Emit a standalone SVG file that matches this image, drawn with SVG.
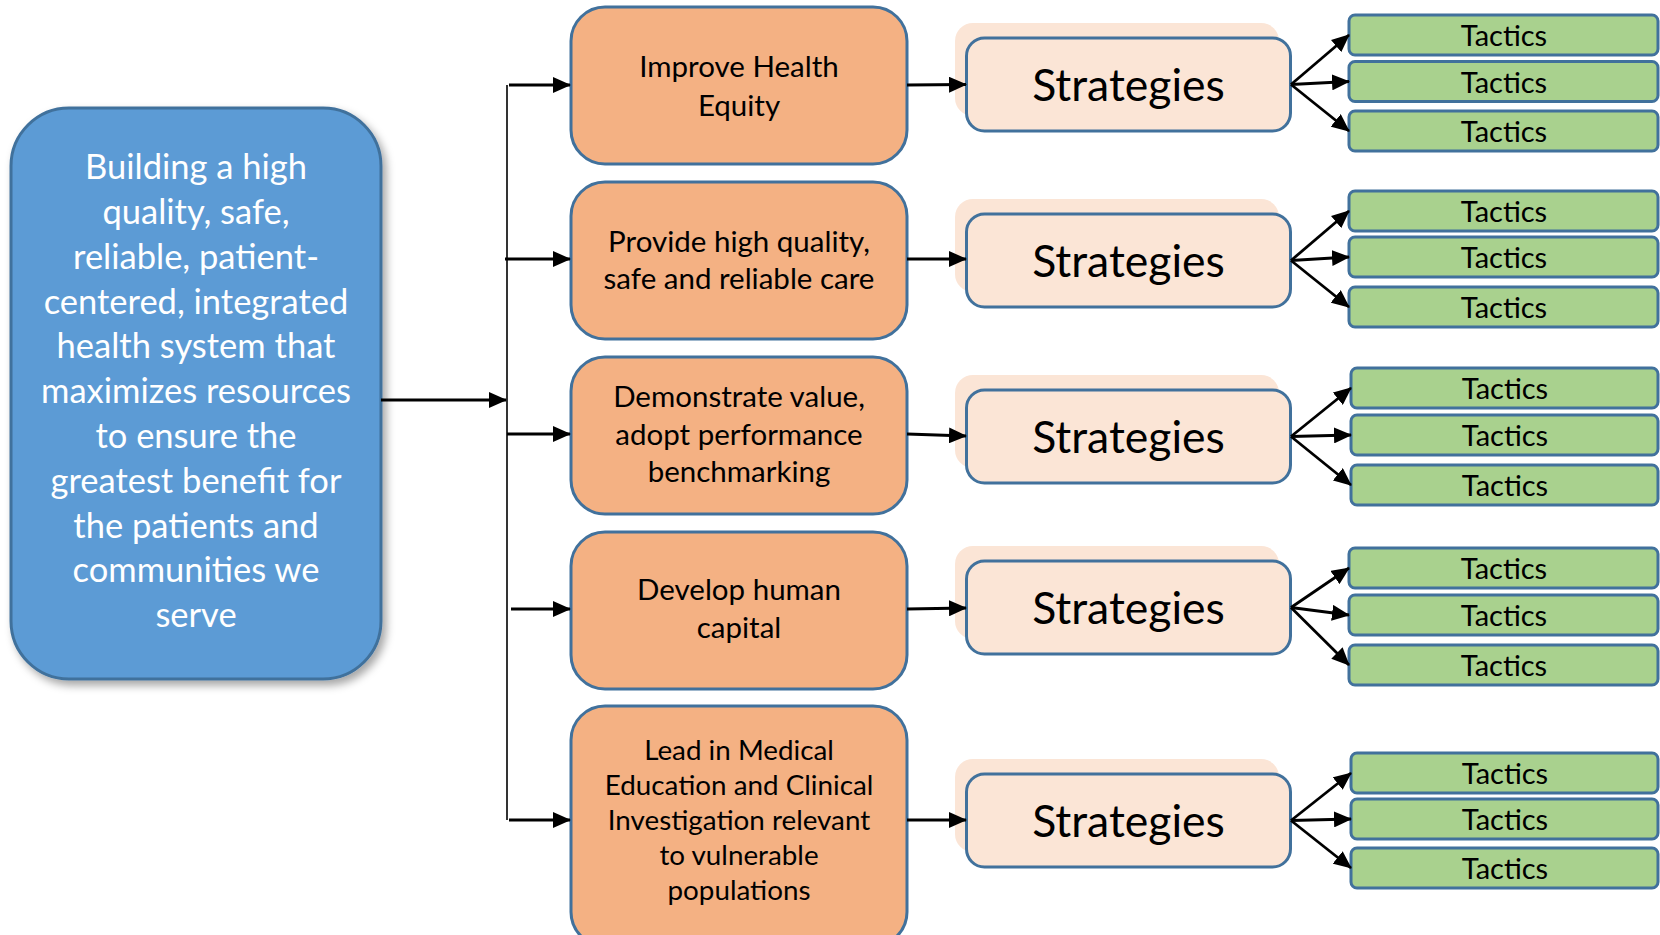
<svg xmlns="http://www.w3.org/2000/svg" width="1660" height="935" viewBox="0 0 1660 935">
<style>
.goal{fill:#5B9BD5;stroke:#41719C;stroke-width:3}
.obj{fill:#F4B183;stroke:#41719C;stroke-width:3}
.strb{fill:#FBE5D6;stroke:none}
.str{fill:#FBE5D6;stroke:#41719C;stroke-width:3}
.tac{fill:#A9D18E;stroke:#41719C;stroke-width:3}
text{font-family:Lato,"Open Sans","Liberation Sans",sans-serif;text-anchor:middle}
.tg{fill:#FFFFFF;font-size:34.5px}
.to{fill:#000;font-size:29.5px}
.to5{fill:#000;font-size:27.8px}
.ts{fill:#000;font-size:44.5px}
.tt{fill:#000;font-size:29px}
.c{stroke:#000;stroke-width:2.8;fill:none;marker-end:url(#ah)}
.bus{stroke:#000;stroke-width:1.6;fill:none}
</style>
<defs>
<marker id="ah" markerUnits="userSpaceOnUse" markerWidth="18" markerHeight="16" refX="17" refY="8" orient="auto">
<path d="M0,0 L18,8 L0,16 Z" fill="#000"/>
</marker>
<filter id="sh" x="-10%" y="-10%" width="130%" height="130%">
<feDropShadow dx="4" dy="5" stdDeviation="4" flood-color="#000" flood-opacity="0.35"/>
</filter>
</defs>

<g id="goal">
<rect class="goal" x="11" y="108" width="370" height="571" rx="58" filter="url(#sh)"/>
<text class="tg" x="196" y="179">Building a high</text>
<text class="tg" x="196" y="224">quality, safe,</text>
<text class="tg" x="196" y="268.5">reliable, patient-</text>
<text class="tg" x="196" y="313.5">centered, integrated</text>
<text class="tg" x="196" y="358">health system that</text>
<text class="tg" x="196" y="403">maximizes resources</text>
<text class="tg" x="196" y="448">to ensure the</text>
<text class="tg" x="196" y="492.5">greatest benefit for</text>
<text class="tg" x="196" y="537.5">the patients and</text>
<text class="tg" x="196" y="582">communities we</text>
<text class="tg" x="196" y="627">serve</text>
</g>

<g id="obj1">
<rect class="obj" x="571" y="7" width="336" height="157" rx="34"/>
<text class="to" x="739" y="77">Improve Health</text>
<text class="to" x="739" y="116">Equity</text>
</g>
<g id="obj2">
<rect class="obj" x="571" y="182" width="336" height="157" rx="34"/>
<text class="to" x="739" y="252">Provide high quality,</text>
<text class="to" x="739" y="289">safe and reliable care</text>
</g>
<g id="obj3">
<rect class="obj" x="571" y="357" width="336" height="157" rx="34"/>
<text class="to" x="739" y="407">Demonstrate value,</text>
<text class="to" x="739" y="445">adopt performance</text>
<text class="to" x="739" y="482">benchmarking</text>
</g>
<g id="obj4">
<rect class="obj" x="571" y="532" width="336" height="157" rx="34"/>
<text class="to" x="739" y="600">Develop human</text>
<text class="to" x="739" y="638">capital</text>
</g>
<g id="obj5">
<rect class="obj" x="571" y="706" width="336" height="240" rx="34"/>
<text class="to5" x="739" y="760">Lead in Medical</text>
<text class="to5" x="739" y="795">Education and Clinical</text>
<text class="to5" x="739" y="830">Investigation relevant</text>
<text class="to5" x="739" y="865">to vulnerable</text>
<text class="to5" x="739" y="900">populations</text>
</g>

<g id="str1">
<rect class="strb" x="955" y="23" width="324" height="93" rx="18"/>
<rect class="str" x="966.5" y="38" width="324" height="93" rx="18"/>
<text class="ts" x="1128.5" y="101">Strategies</text>
</g>
<g id="str2">
<rect class="strb" x="955" y="199" width="324" height="93" rx="18"/>
<rect class="str" x="966.5" y="214" width="324" height="93" rx="18"/>
<text class="ts" x="1128.5" y="277">Strategies</text>
</g>
<g id="str3">
<rect class="strb" x="955" y="375" width="324" height="93" rx="18"/>
<rect class="str" x="966.5" y="390" width="324" height="93" rx="18"/>
<text class="ts" x="1128.5" y="453">Strategies</text>
</g>
<g id="str4">
<rect class="strb" x="955" y="546" width="324" height="93" rx="18"/>
<rect class="str" x="966.5" y="561" width="324" height="93" rx="18"/>
<text class="ts" x="1128.5" y="624">Strategies</text>
</g>
<g id="str5">
<rect class="strb" x="955" y="759" width="324" height="93" rx="18"/>
<rect class="str" x="966.5" y="774" width="324" height="93" rx="18"/>
<text class="ts" x="1128.5" y="837">Strategies</text>
</g>

<g id="tac1a"><rect class="tac" x="1349" y="15" width="309" height="40" rx="6"/><text class="tt" x="1504" y="46">Tactics</text></g>
<g id="tac1b"><rect class="tac" x="1349" y="61.5" width="309" height="40" rx="6"/><text class="tt" x="1504" y="92.5">Tactics</text></g>
<g id="tac1c"><rect class="tac" x="1349" y="111" width="309" height="40" rx="6"/><text class="tt" x="1504" y="142">Tactics</text></g>
<g id="tac2a"><rect class="tac" x="1349" y="191" width="309" height="40" rx="6"/><text class="tt" x="1504" y="222">Tactics</text></g>
<g id="tac2b"><rect class="tac" x="1349" y="237" width="309" height="40" rx="6"/><text class="tt" x="1504" y="268">Tactics</text></g>
<g id="tac2c"><rect class="tac" x="1349" y="287" width="309" height="40" rx="6"/><text class="tt" x="1504" y="318">Tactics</text></g>
<g id="tac3a"><rect class="tac" x="1351" y="368" width="307" height="40" rx="6"/><text class="tt" x="1505" y="399">Tactics</text></g>
<g id="tac3b"><rect class="tac" x="1351" y="415" width="307" height="40" rx="6"/><text class="tt" x="1505" y="446">Tactics</text></g>
<g id="tac3c"><rect class="tac" x="1351" y="465" width="307" height="40" rx="6"/><text class="tt" x="1505" y="496">Tactics</text></g>
<g id="tac4a"><rect class="tac" x="1349" y="548" width="309" height="40" rx="6"/><text class="tt" x="1504" y="579">Tactics</text></g>
<g id="tac4b"><rect class="tac" x="1349" y="595" width="309" height="40" rx="6"/><text class="tt" x="1504" y="626">Tactics</text></g>
<g id="tac4c"><rect class="tac" x="1349" y="645" width="309" height="40" rx="6"/><text class="tt" x="1504" y="676">Tactics</text></g>
<g id="tac5a"><rect class="tac" x="1351" y="753" width="307" height="40" rx="6"/><text class="tt" x="1505" y="784">Tactics</text></g>
<g id="tac5b"><rect class="tac" x="1351" y="799" width="307" height="40" rx="6"/><text class="tt" x="1505" y="830">Tactics</text></g>
<g id="tac5c"><rect class="tac" x="1351" y="848" width="307" height="40" rx="6"/><text class="tt" x="1505" y="879">Tactics</text></g>

<g id="connectors">
<line class="c" x1="381" y1="400" x2="506" y2="400"/>
<line class="bus" x1="507" y1="85" x2="507" y2="820"/>
<line class="c" x1="509" y1="85" x2="570" y2="85"/>
<line class="c" x1="505" y1="259" x2="570" y2="259"/>
<line class="c" x1="507" y1="434" x2="570" y2="434"/>
<line class="c" x1="511" y1="609" x2="570" y2="609"/>
<line class="c" x1="509" y1="820" x2="570" y2="820"/>
<line class="c" x1="907" y1="85" x2="966" y2="84.5"/>
<line class="c" x1="907" y1="259" x2="966" y2="259"/>
<line class="c" x1="907" y1="434" x2="966" y2="436"/>
<line class="c" x1="907" y1="609" x2="966" y2="608"/>
<line class="c" x1="907" y1="820" x2="966" y2="820"/>
<line class="c" x1="1291" y1="84.5" x2="1349" y2="35"/>
<line class="c" x1="1291" y1="84.5" x2="1349" y2="81.5"/>
<line class="c" x1="1291" y1="84.5" x2="1349" y2="131"/>
<line class="c" x1="1291" y1="260.5" x2="1349" y2="211"/>
<line class="c" x1="1291" y1="260.5" x2="1349" y2="257"/>
<line class="c" x1="1291" y1="260.5" x2="1349" y2="307"/>
<line class="c" x1="1291" y1="436.5" x2="1351" y2="388"/>
<line class="c" x1="1291" y1="436.5" x2="1351" y2="435"/>
<line class="c" x1="1291" y1="436.5" x2="1351" y2="485"/>
<line class="c" x1="1291" y1="607.5" x2="1349" y2="568"/>
<line class="c" x1="1291" y1="607.5" x2="1349" y2="615"/>
<line class="c" x1="1291" y1="607.5" x2="1349" y2="665"/>
<line class="c" x1="1291" y1="820.5" x2="1351" y2="773"/>
<line class="c" x1="1291" y1="820.5" x2="1351" y2="819"/>
<line class="c" x1="1291" y1="820.5" x2="1351" y2="868"/>
</g>
</svg>
